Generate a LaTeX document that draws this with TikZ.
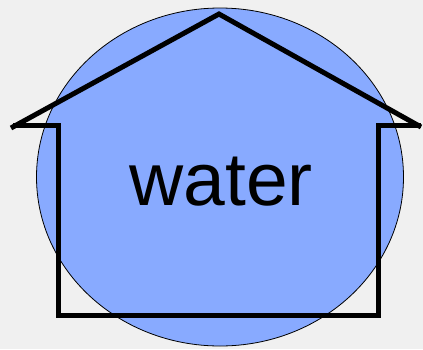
\documentclass[tikz,border=0pt]{standalone}
\usepackage{fontspec}
\setmainfont{Liberation Sans}
\definecolor{bg}{HTML}{F0F0F0}
\definecolor{water}{HTML}{88AAFF}
\begin{document}
\begin{tikzpicture}[x=1pt,y=-1pt,
  houseline/.style={line width=5pt,line cap=butt,line join=miter,black},
  pool/.style={fill=water,draw=black,line width=0.8pt}]
\useasboundingbox[fill=bg] (0,0) rectangle (423,349);
\draw[pool] (220,177) ellipse [x radius=183.5, y radius=169];
\node[font=\fontsize{75}{80}\selectfont,anchor=base,inner sep=0pt] (label) at (221,205) {water};
\draw[houseline] (11,128) -- (219,14) -- (421,127);
\draw[houseline] (13,125) -- (58,125) -- (58,315) -- (378,315) -- (378,125) -- (421,125);
\end{tikzpicture}
\end{document}
